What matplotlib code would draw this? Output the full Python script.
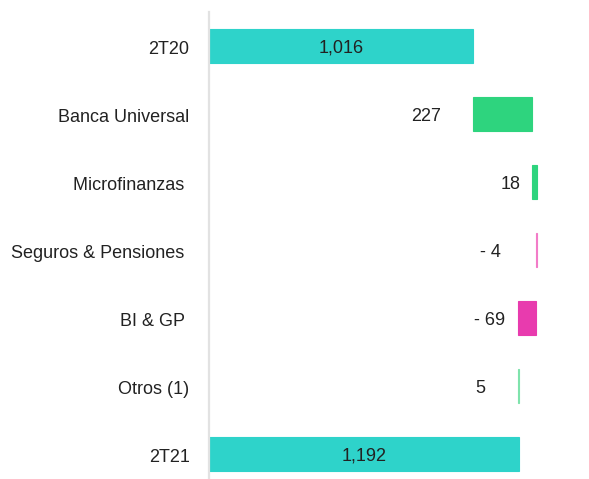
import matplotlib.pyplot as plt
from matplotlib.transforms import ScaledTranslation

plt.rcParams['font.family'] = ['Liberation Sans', 'DejaVu Sans']

categories = ['2T20', 'Banca Universal', 'Microfinanzas ', 'Seguros & Pensiones ',
              'BI & GP ', 'Otros (1)', '2T21']
values = [1016, 227, 18, -4, -69, 5, 1192]
is_total = [True, False, False, False, False, False, True]

colors = ['#2ED3CA', '#2ED47E', '#2ED47E', '#F27CC8', '#E83BAE', '#7FE3AC', '#2ED3CA']
label_gap = [0, 32, 11, 35, 13, 32, 0]  # pixels between delta label and bar

fig = plt.figure(figsize=(5.89, 4.79), dpi=100)
ax = fig.add_axes([209 / 589, 0, 1 - 209 / 589, 1 - 12 / 479])

running = 0
for i, (cat, v) in enumerate(zip(categories, values)):
    if is_total[i]:
        left, width = 0, v
        running = v
    else:
        left = running if v >= 0 else running + v
        width = abs(v)
        running += v
    ax.barh(i, width, left=left, height=0.49, color=colors[i],
            edgecolor=colors[i], linewidth=0.8)
    if is_total[i]:
        ax.annotate(f'{v:,}', (left + width / 2, i), xytext=(0, -2),
                    textcoords='offset pixels', ha='center', va='center',
                    fontsize=13, color='#222222')
    else:
        txt = f'{v}' if v >= 0 else f'- {abs(v)}'
        ax.annotate(txt, (left, i), xytext=(-label_gap[i], -3),
                    textcoords='offset pixels', ha='right', va='center',
                    fontsize=13, color='#222222')

ax.set_xlim(0, (589 - 209) / (264 / 1016))
ax.set_ylim(6.37, -0.5)
ax.set_yticks(range(len(categories)))
ax.set_yticklabels(categories, fontsize=13, color='#222222')
ax.tick_params(axis='y', length=0, pad=14)
shift = ScaledTranslation(0, -2 / 100, fig.dpi_scale_trans)
for lbl in ax.get_yticklabels():
    lbl.set_transform(lbl.get_transform() + shift)
ax.set_xticks([])
for s in ['top', 'right', 'bottom']:
    ax.spines[s].set_visible(False)
ax.spines['left'].set_color('#e2e2e2')
ax.spines['left'].set_linewidth(1.6)

fig.savefig('out.png', dpi=100)
